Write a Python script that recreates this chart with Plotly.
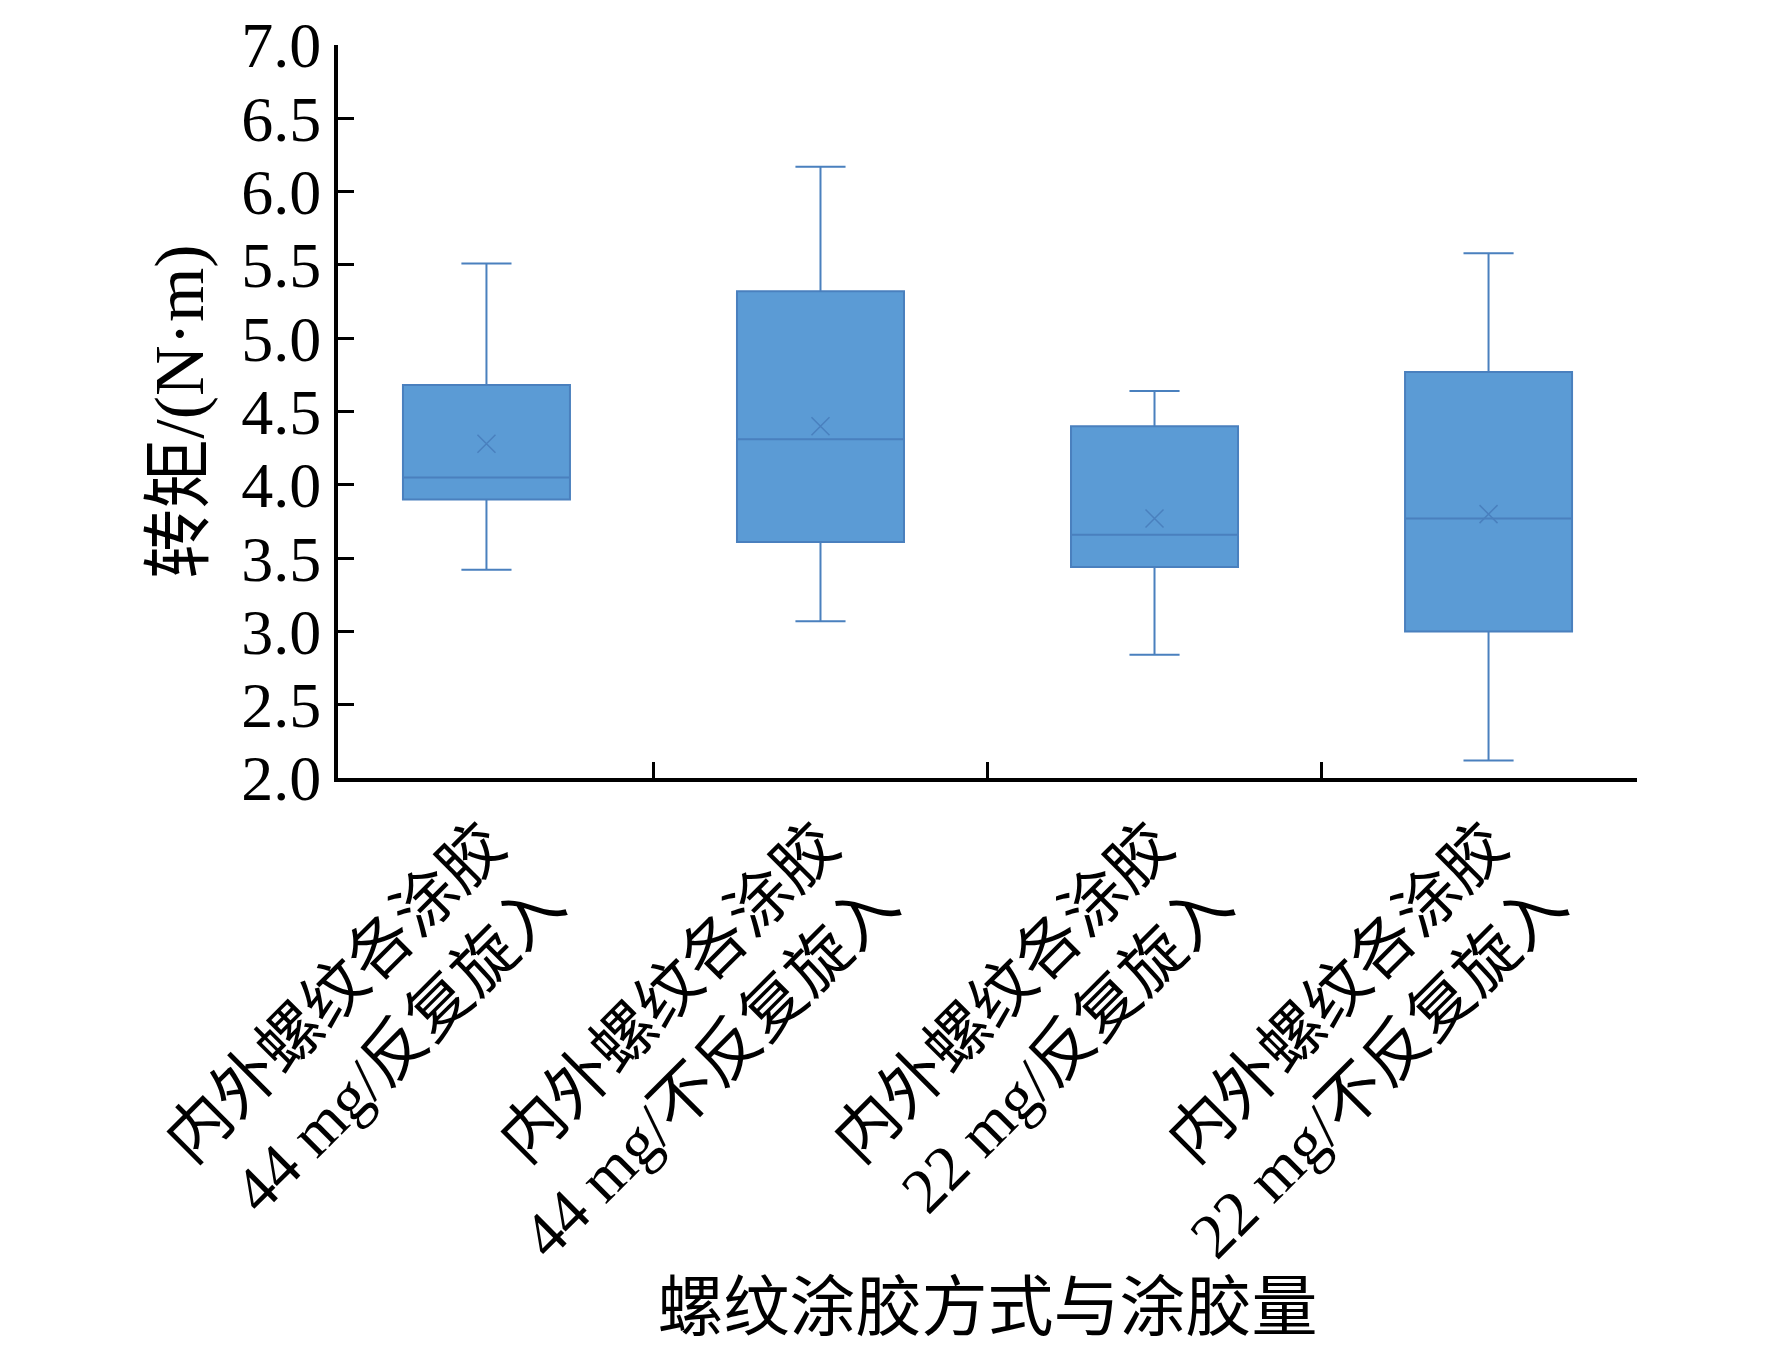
import plotly.graph_objects as go

# 各组转矩统计值 (N·m)
categories = ["内外螺纹各涂胶<br>44 mg/反复旋入",
              "内外螺纹各涂胶<br>44 mg/不反复旋入",
              "内外螺纹各涂胶<br>22 mg/反复旋入",
              "内外螺纹各涂胶<br>22 mg/不反复旋入"]
lower_whisker = [3.42, 3.07, 2.84, 2.12]
q1_values = [3.90, 3.61, 3.44, 3.00]
median_values = [4.05, 4.31, 3.66, 3.77]
q3_values = [4.68, 5.32, 4.40, 4.77]
upper_whisker = [5.51, 6.17, 4.64, 5.58]
mean_values = [4.28, 4.40, 3.77, 3.80]
y_ticks = [2.0, 2.5, 3.0, 3.5, 4.0, 4.5, 5.0, 5.5, 6.0, 6.5, 7.0]

SERIF = "Liberation Serif, Noto Sans CJK SC"

fig = go.Figure()

fig.add_trace(go.Box(
    x=categories,
    q1=q1_values, median=median_values, q3=q3_values,
    lowerfence=lower_whisker, upperfence=upper_whisker,
    fillcolor="#5B9BD5",
    line=dict(color="#4A80BE", width=2),
    whiskerwidth=0.3,
    width=0.5,
    boxpoints=False,
    showlegend=False,
))

# 均值标记 ×
fig.add_trace(go.Scatter(
    x=categories, y=mean_values,
    mode="markers",
    marker=dict(symbol="x-thin", size=18, line=dict(color="#4A80BE", width=1.5)),
    showlegend=False,
))

fig.update_layout(
    width=1772, height=1360,
    paper_bgcolor="white", plot_bgcolor="white",
    margin=dict(l=330, r=143, t=37, b=590),
    font=dict(family=SERIF, color="black"),
)

fig.update_xaxes(
    showline=True, linecolor="black", linewidth=4,
    ticks="inside", tickson="boundaries", ticklen=16, tickwidth=3, tickcolor="black",
    tickangle=-45,
    tickfont=dict(size=64, family=SERIF),
    title=dict(text="螺纹涂胶方式与涂胶量", font=dict(size=66, family=SERIF), standoff=10),
    showgrid=False,
)

fig.update_yaxes(
    range=[2.0, 7.0],
    tickvals=y_ticks,
    ticktext=[f"{v:.1f}" for v in y_ticks],
    ticklabeloverflow="allow",
    automargin=False,
    showline=True, linecolor="black", linewidth=4,
    ticks="inside", ticklen=16, tickwidth=3, tickcolor="black",
    tickfont=dict(size=64, family=SERIF),
    title=dict(text="转矩/(N·m)", font=dict(size=70, family=SERIF), standoff=16),
    showgrid=False, zeroline=False,
)

fig.write_html("out.html")
